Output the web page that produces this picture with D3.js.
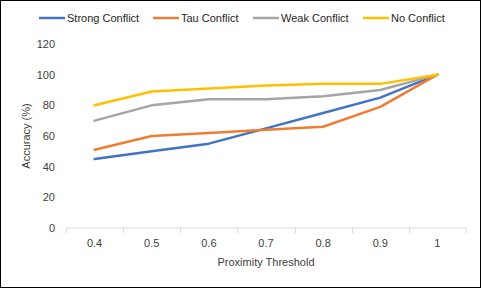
<!DOCTYPE html>
<html>
<head>
<meta charset="utf-8">
<script src="https://cdn.jsdelivr.net/npm/d3@7"></script>
<style>
  body { margin: 0; background: #fff; }
  svg { display: block; font-family: 'Liberation Sans', 'DejaVu Sans', sans-serif; }
</style>
</head>
<body>
<div id="chart"></div>
<script>
// chart data
const thresholds = ['0.4', '0.5', '0.6', '0.7', '0.8', '0.9', '1'];
const seriesNames = ['Strong Conflict', 'Tau Conflict', 'Weak Conflict', 'No Conflict'];
const strongConflict = [45, 50, 55, 65, 75, 85, 100];
const tauConflict = [51, 60, 62, 64, 66, 79, 100];
const weakConflict = [70, 80, 84, 84, 86, 90, 100];
const noConflict = [80, 89, 91, 93, 94, 94, 100];
const yTicks = [0, 20, 40, 60, 80, 100, 120];
const colors = ['#4472C4', '#ED7D31', '#A5A5A5', '#FFC000'];

const width = 481;
const height = 288;
const margin = { top: 44, right: 15, bottom: 60, left: 66 };
const textColor = '#404040';

const svg = d3.select('#chart')
  .append('svg')
  .attr('width', width)
  .attr('height', height);

// outer chart border
svg.append('rect')
  .attr('x', 0.5).attr('y', 0.5)
  .attr('width', width - 1).attr('height', height - 1)
  .attr('fill', '#fff')
  .attr('stroke', '#000');

const x = d3.scaleBand()
  .domain(thresholds)
  .range([margin.left, width - margin.right]);

const y = d3.scaleLinear()
  .domain([0, 120])
  .range([height - margin.bottom, margin.top]);

// x axis: band boundaries as ticks
const xAxis = svg.append('g')
  .attr('transform', `translate(0,${height - margin.bottom})`);
xAxis.append('line')
  .attr('x1', x.range()[0]).attr('x2', x.range()[1])
  .attr('stroke', '#d9d9d9');
const bounds = thresholds.map(t => x(t)).concat([x.range()[1]]);
xAxis.selectAll('.tick')
  .data(bounds)
  .enter()
  .append('line')
  .attr('x1', d => Math.round(d) + 0.5).attr('x2', d => Math.round(d) + 0.5)
  .attr('y1', 0).attr('y2', 5)
  .attr('stroke', '#d9d9d9');
xAxis.selectAll('.lbl')
  .data(thresholds)
  .enter()
  .append('text')
  .attr('x', d => x(d) + x.bandwidth() / 2)
  .attr('y', 19)
  .attr('text-anchor', 'middle')
  .attr('font-size', '11px')
  .attr('fill', textColor)
  .text(d => d);

// y axis labels (no axis line, no gridlines)
svg.append('g')
  .selectAll('text')
  .data(yTicks)
  .enter()
  .append('text')
  .attr('x', 55)
  .attr('y', d => y(d))
  .attr('dy', '0.35em')
  .attr('text-anchor', 'end')
  .attr('font-size', '11px')
  .attr('fill', textColor)
  .text(d => d);

// axis titles
svg.append('text')
  .attr('x', (x.range()[0] + x.range()[1]) / 2)
  .attr('y', 266)
  .attr('text-anchor', 'middle')
  .attr('font-size', '11px')
  .attr('fill', textColor)
  .text('Proximity Threshold');

svg.append('text')
  .attr('transform', `translate(30,${(y(0) + y(120)) / 2}) rotate(-90)`)
  .attr('text-anchor', 'middle')
  .attr('font-size', '11px')
  .attr('fill', textColor)
  .text('Accuracy (%)');

// series lines
const allSeries = [strongConflict, tauConflict, weakConflict, noConflict];
const line = d3.line()
  .x((d, i) => x(thresholds[i]) + x.bandwidth() / 2)
  .y(d => y(d));

svg.selectAll('.series')
  .data(allSeries)
  .enter()
  .append('path')
  .attr('d', d => line(d))
  .attr('fill', 'none')
  .attr('stroke', (d, i) => colors[i])
  .attr('stroke-width', 2.5)
  .attr('stroke-linejoin', 'round')
  .attr('stroke-linecap', 'round');

// legend
const legendX = [39, 153, 253, 363];
const legend = svg.append('g');
const items = legend.selectAll('g')
  .data(seriesNames)
  .enter()
  .append('g')
  .attr('transform', (d, i) => `translate(${legendX[i]},18)`);
items.append('line')
  .attr('x1', 0).attr('x2', 26)
  .attr('stroke', (d, i) => colors[i])
  .attr('stroke-width', 2.5);
items.append('text')
  .attr('x', 28)
  .attr('dy', '0.35em')
  .attr('font-size', '11px')
  .attr('fill', '#262626')
  .text(d => d);
</script>
</body>
</html>
